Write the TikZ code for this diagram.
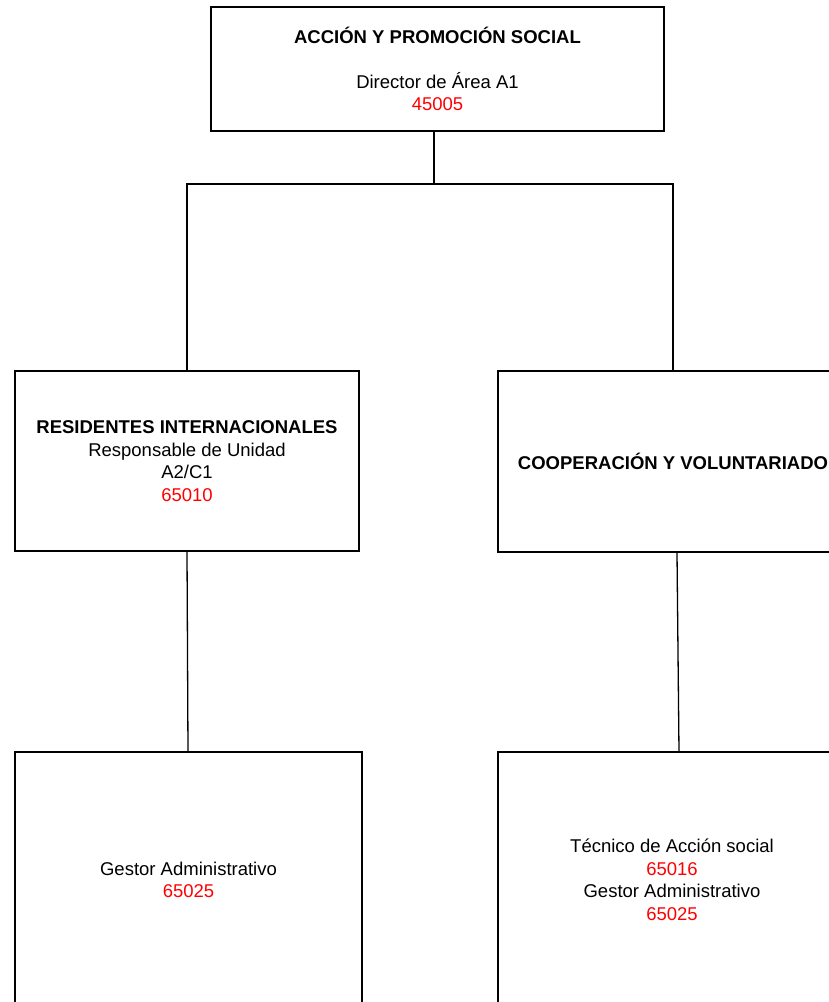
\documentclass[tikz,border=0pt]{standalone}
\usepackage{fontspec}
\setmainfont{Liberation Sans}
\definecolor{codered}{HTML}{FF0000}
\begin{document}
\begin{tikzpicture}[x=1pt,y=-1pt,
  box/.style={draw=black, line width=1.3pt, fill=white, rectangle, inner sep=0pt,
    align=center, font=\fontsize{18.5pt}{22.5pt}\selectfont},
  link/.style={draw=black, line width=1.3pt},
  code/.style={text=codered}]
\clip (0,0) rectangle (829,1002);
\fill[white] (0,0) rectangle (829,1002);

\node[box, minimum width=453pt, minimum height=124pt] (top) at (437.5,69)
  {\textbf{ACCIÓN Y PROMOCIÓN SOCIAL}\\[22pt]Director de Área A1\\\textcolor{codered}{45005}};

\node[box, minimum width=344pt, minimum height=180pt] (lmid) at (187,461)
  {\textbf{RESIDENTES INTERNACIONALES}\\Responsable de Unidad\\A2/C1\\\textcolor{codered}{65010}};

\node[box, minimum width=350pt, minimum height=181pt] (rmid) at (673,461.5)
  {\textbf{COOPERACIÓN Y VOLUNTARIADO}};

\node[box, minimum width=347pt, minimum height=256pt] (lbot) at (188.5,880)
  {Gestor Administrativo\\\textcolor{codered}{65025}};

\node[box, minimum width=348pt, minimum height=256pt] (rbot) at (672,880)
  {Técnico de Acción social\\\textcolor{codered}{65016}\\Gestor Administrativo\\\textcolor{codered}{65025}};

\coordinate (j) at (434,184);
\draw[link] (j |- top.south) -- (j);
\draw[link] (lmid.north) |- (j) -| (rmid.north);
\draw[link] (lmid.south) -- ([xshift=-0.5pt]lbot.north);
\draw[link] ([xshift=4pt]rmid.south) -- ([xshift=7pt]rbot.north);
\end{tikzpicture}
\end{document}
